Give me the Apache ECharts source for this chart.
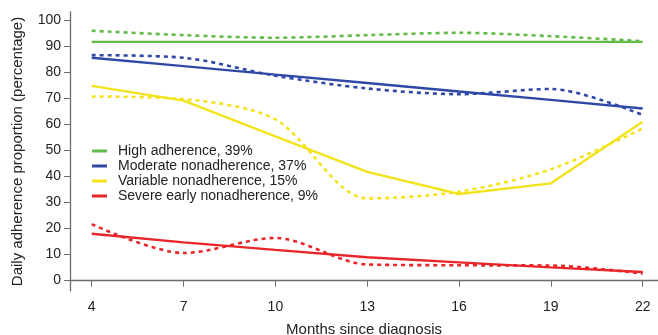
<!DOCTYPE html>
<html>
<head>
<meta charset="utf-8">
<script src="https://cdn.jsdelivr.net/npm/echarts@6/dist/echarts.min.js"></script>
<style>html,body{margin:0;padding:0;background:#fff}#c{width:658px;height:335px}</style>
</head>
<body>
<div id="c"></div>
<script>
var months = [4, 7, 10, 13, 16, 19, 22];
var yTicks = [0, 10, 20, 30, 40, 50, 60, 70, 80, 90, 100];
var names = ['High adherence, 39%', 'Moderate nonadherence, 37%', 'Variable nonadherence, 15%', 'Severe early nonadherence, 9%'];
var colors = ['#62bb48', '#2f48a6', '#f3e31b', '#e8262a'];
// fitted (solid) trajectories
var highFit = [91.8, 91.8, 91.8, 91.8, 91.8, 91.8, 91.8];
var moderateFit = [85.7, 82.5, 79.2, 76.0, 72.7, 69.5, 66.2];
var variableFit = [74.9, 69.2, 55.5, 41.8, 33.3, 37.4, 61.1];
var severeFit = [18.0, 14.7, 11.8, 9.0, 7.0, 5.1, 3.3];
// observed (dashed) trajectories
var highObs = [96.1, 94.4, 93.4, 94.4, 95.3, 94.0, 92.1];
var moderateObs = [86.7, 85.7, 78.8, 73.9, 71.7, 73.7, 63.7];
var variableObs = [70.8, 69.8, 62.0, 31.6, 34.2, 42.8, 58.5];
var severeObs = [21.7, 10.6, 16.4, 6.2, 5.9, 5.8, 2.7];

function pairs(v) { return months.map(function (m, i) { return [m, v[i]]; }); }
var fits = [highFit, moderateFit, variableFit, severeFit];
var obs = [highObs, moderateObs, variableObs, severeObs];
var series = [];
obs.forEach(function (v, i) {
  series.push({ name: 'obs' + i, type: 'line', data: pairs(v), smooth: 0.3, symbol: 'none',
    lineStyle: { color: colors[i], width: 2.6, type: [4, 4] }, z: 2 });
});
fits.forEach(function (v, i) {
  series.push({ name: names[i], type: 'line', data: pairs(v), smooth: false, symbol: 'none',
    color: colors[i], lineStyle: { color: colors[i], width: 2.4 }, z: 3 });
});
var axisLine = { show: true, lineStyle: { color: '#6b6b6b', width: 1.3 } };
var chart = echarts.init(document.getElementById('c'), null, { renderer: 'canvas' });
chart.setOption({
  animation: false,
  textStyle: { fontFamily: 'Liberation Sans, Arial, sans-serif' },
  grid: { left: 70, right: 0, top: 12, bottom: 44, containLabel: false, outerBoundsMode: 'none' },
  legend: {
    data: names, orient: 'vertical', left: 92, top: 144,
    icon: 'rect', itemWidth: 15, itemHeight: 3, itemGap: 1,
    textStyle: { fontSize: 14, color: '#222', lineHeight: 14, padding: [0, 0, 0, 6] },
    padding: 0
  },
  xAxis: {
    type: 'value', min: 3.29, max: 22.5,
    name: 'Months since diagnosis', nameLocation: 'middle', nameGap: 31,
    nameTextStyle: { fontSize: 15, color: '#222' },
    axisLine: axisLine, splitLine: { show: false },
    axisTick: { show: true, length: 6, customValues: months, lineStyle: { color: '#6b6b6b' } },
    axisLabel: { customValues: months, fontSize: 14, color: '#222', margin: 9 }
  },
  yAxis: {
    type: 'value', min: -4, max: 103.3,
    name: 'Daily adherence proportion (percentage)', nameLocation: 'middle', nameGap: 45,
    nameTextStyle: { fontSize: 15, color: '#222' }, nameRotate: 90,
    axisLine: axisLine, splitLine: { show: false },
    axisTick: { show: true, length: 6, customValues: yTicks, lineStyle: { color: '#6b6b6b' } },
    axisLabel: { customValues: yTicks, fontSize: 14, color: '#222', margin: 9 }
  },
  series: series
});
</script>
</body>
</html>
